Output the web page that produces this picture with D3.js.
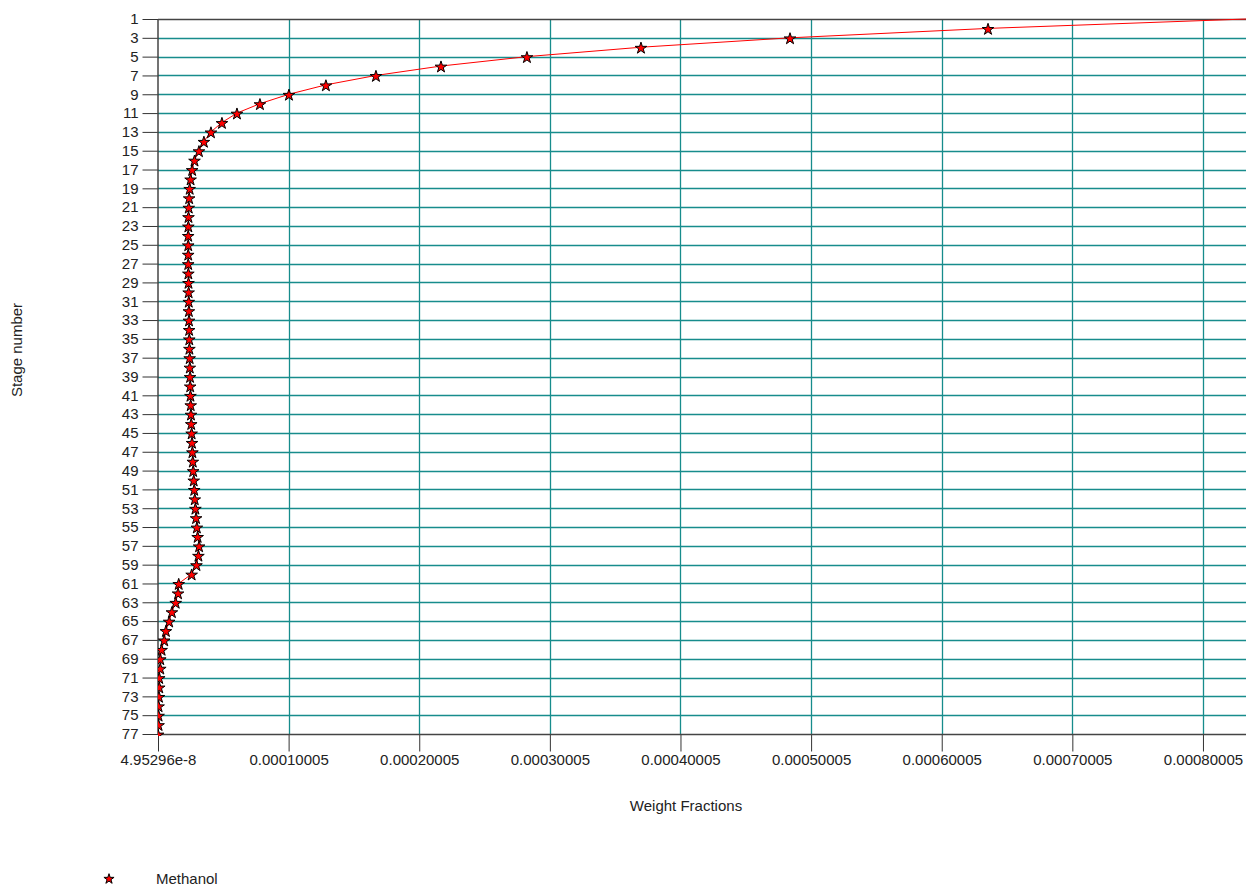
<!DOCTYPE html>
<html>
<head>
<meta charset="utf-8">
<script src="https://cdn.jsdelivr.net/npm/d3@7"></script>
<style>
    body { margin: 0; background: #fff; }
    text { font-family: "Liberation Sans", Arial, sans-serif; font-size: 15px; fill: #222; }
</style>
</head>
<body>
<div id="chart"></div>
<script>
const stages = d3.range(1, 78);
// methanol weight fraction per stage (units of 1e-5)
const methanol = [
    83.3, 63.55, 48.39, 36.98, 28.25, 21.67, 16.69, 12.86, 10.03, 7.81,
    6.05, 4.90, 4.06, 3.52, 3.14, 2.80, 2.62, 2.50, 2.43, 2.39,
    2.36, 2.34, 2.33, 2.32, 2.32, 2.32, 2.32, 2.33, 2.34, 2.35,
    2.36, 2.37, 2.38, 2.39, 2.40, 2.41, 2.43, 2.44, 2.46, 2.47,
    2.49, 2.51, 2.53, 2.55, 2.58, 2.61, 2.64, 2.67, 2.70, 2.74,
    2.78, 2.82, 2.87, 2.92, 2.98, 3.04, 3.15, 3.10, 2.95, 2.58,
    1.59, 1.54, 1.36, 1.07, 0.86, 0.61, 0.48, 0.28, 0.18, 0.18,
    0.10, 0.10, 0.08, 0.05, 0.05, 0.05, 0.00495296
];
const xTicks = [4.95296e-8, 0.00010005, 0.00020005, 0.00030005, 0.00040005,
    0.00050005, 0.00060005, 0.00070005, 0.00080005];
const xTickLabels = ["4.95296e-8", "0.00010005", "0.00020005", "0.00030005", "0.00040005",
    "0.00050005", "0.00060005", "0.00070005", "0.00080005"];
const yTicks = d3.range(1, 78, 2);

const width = 1246, height = 886;
const m = {left: 158, right: 1246, top: 19, bottom: 734};

const data = stages.map((s, i) => ({stage: s, value: methanol[i] * 1e-5}));

const x = d3.scaleLinear().domain([4.95296e-8, 0.000833]).range([m.left, m.right]);
const y = d3.scaleLinear().domain([1, 77]).range([m.top, m.bottom]);

const svg = d3.select("#chart").append("svg")
    .attr("width", width)
    .attr("height", height);

svg.append("defs").append("clipPath").attr("id", "plot")
    .append("rect")
    .attr("x", m.left).attr("y", m.top - 2)
    .attr("width", m.right - m.left).attr("height", m.bottom - m.top + 4);

// grid
const grid = svg.append("g").attr("stroke", "#178c8c").attr("stroke-width", 1.3);
grid.selectAll("line.h").data(yTicks.slice(1, -1)).join("line")
    .attr("x1", m.left).attr("x2", m.right)
    .attr("y1", d => Math.round(y(d)) + 0.5).attr("y2", d => Math.round(y(d)) + 0.5);
grid.selectAll("line.v").data(xTicks.slice(1)).join("line")
    .attr("y1", m.top).attr("y2", m.bottom)
    .attr("x1", d => Math.round(x(d)) + 0.5).attr("x2", d => Math.round(x(d)) + 0.5);

// axes
const yAxis = d3.axisLeft(y).tickValues(yTicks).tickSize(16).tickPadding(4).tickFormat(d3.format("d"));
const gy = svg.append("g").attr("transform", `translate(${m.left + 0.5},0)`).call(yAxis);
const xAxis = d3.axisBottom(x).tickValues(xTicks).tickSize(17).tickPadding(3)
    .tickFormat((d, i) => xTickLabels[i]);
const gx = svg.append("g").attr("transform", `translate(0,${m.bottom + 0.5})`).call(xAxis);
[gx, gy].forEach(g => {
    g.select(".domain").remove();
    g.selectAll("line").attr("stroke", "#333");
    g.selectAll("text").style("font-size", "15px").attr("fill", "#222");
});
svg.append("g").attr("stroke", "#444").attr("stroke-width", 1.5)
    .selectAll("line").data([
        [m.left, m.top, m.right, m.top],
        [m.left, m.bottom, m.right, m.bottom],
        [m.left, m.top, m.left, m.bottom]
    ]).join("line")
    .attr("x1", d => d[0]).attr("y1", d => d[1] + 0.5)
    .attr("x2", d => d[2]).attr("y2", d => d[3] + 0.5);

// series
const line = d3.line().x(d => x(d.value)).y(d => y(d.stage));
const series = svg.append("g").attr("clip-path", "url(#plot)");
series.append("path").datum(data)
    .attr("d", line)
    .attr("fill", "none")
    .attr("stroke", "#ff0000")
    .attr("stroke-width", 1);

const star = d3.symbol().type(d3.symbolStar).size(42);
series.selectAll("path.m").data(data.slice(1)).join("path")
    .attr("class", "m")
    .attr("transform", d => `translate(${x(d.value)},${y(d.stage) + 1})`)
    .attr("d", star)
    .attr("fill", "#ff0000")
    .attr("stroke", "#000")
    .attr("stroke-width", 1);

// titles
svg.append("text")
    .attr("transform", "translate(22,350) rotate(-90)")
    .attr("text-anchor", "middle")
    .text("Stage number");
svg.append("text")
    .attr("x", 686).attr("y", 811)
    .attr("text-anchor", "middle")
    .text("Weight Fractions");

// legend
svg.append("path")
    .attr("transform", "translate(109,879)")
    .attr("d", d3.symbol().type(d3.symbolStar).size(32))
    .attr("fill", "#ff0000")
    .attr("stroke", "#000")
    .attr("stroke-width", 1);
svg.append("text")
    .attr("x", 156).attr("y", 884)
    .text("Methanol");
</script>
</body>
</html>
